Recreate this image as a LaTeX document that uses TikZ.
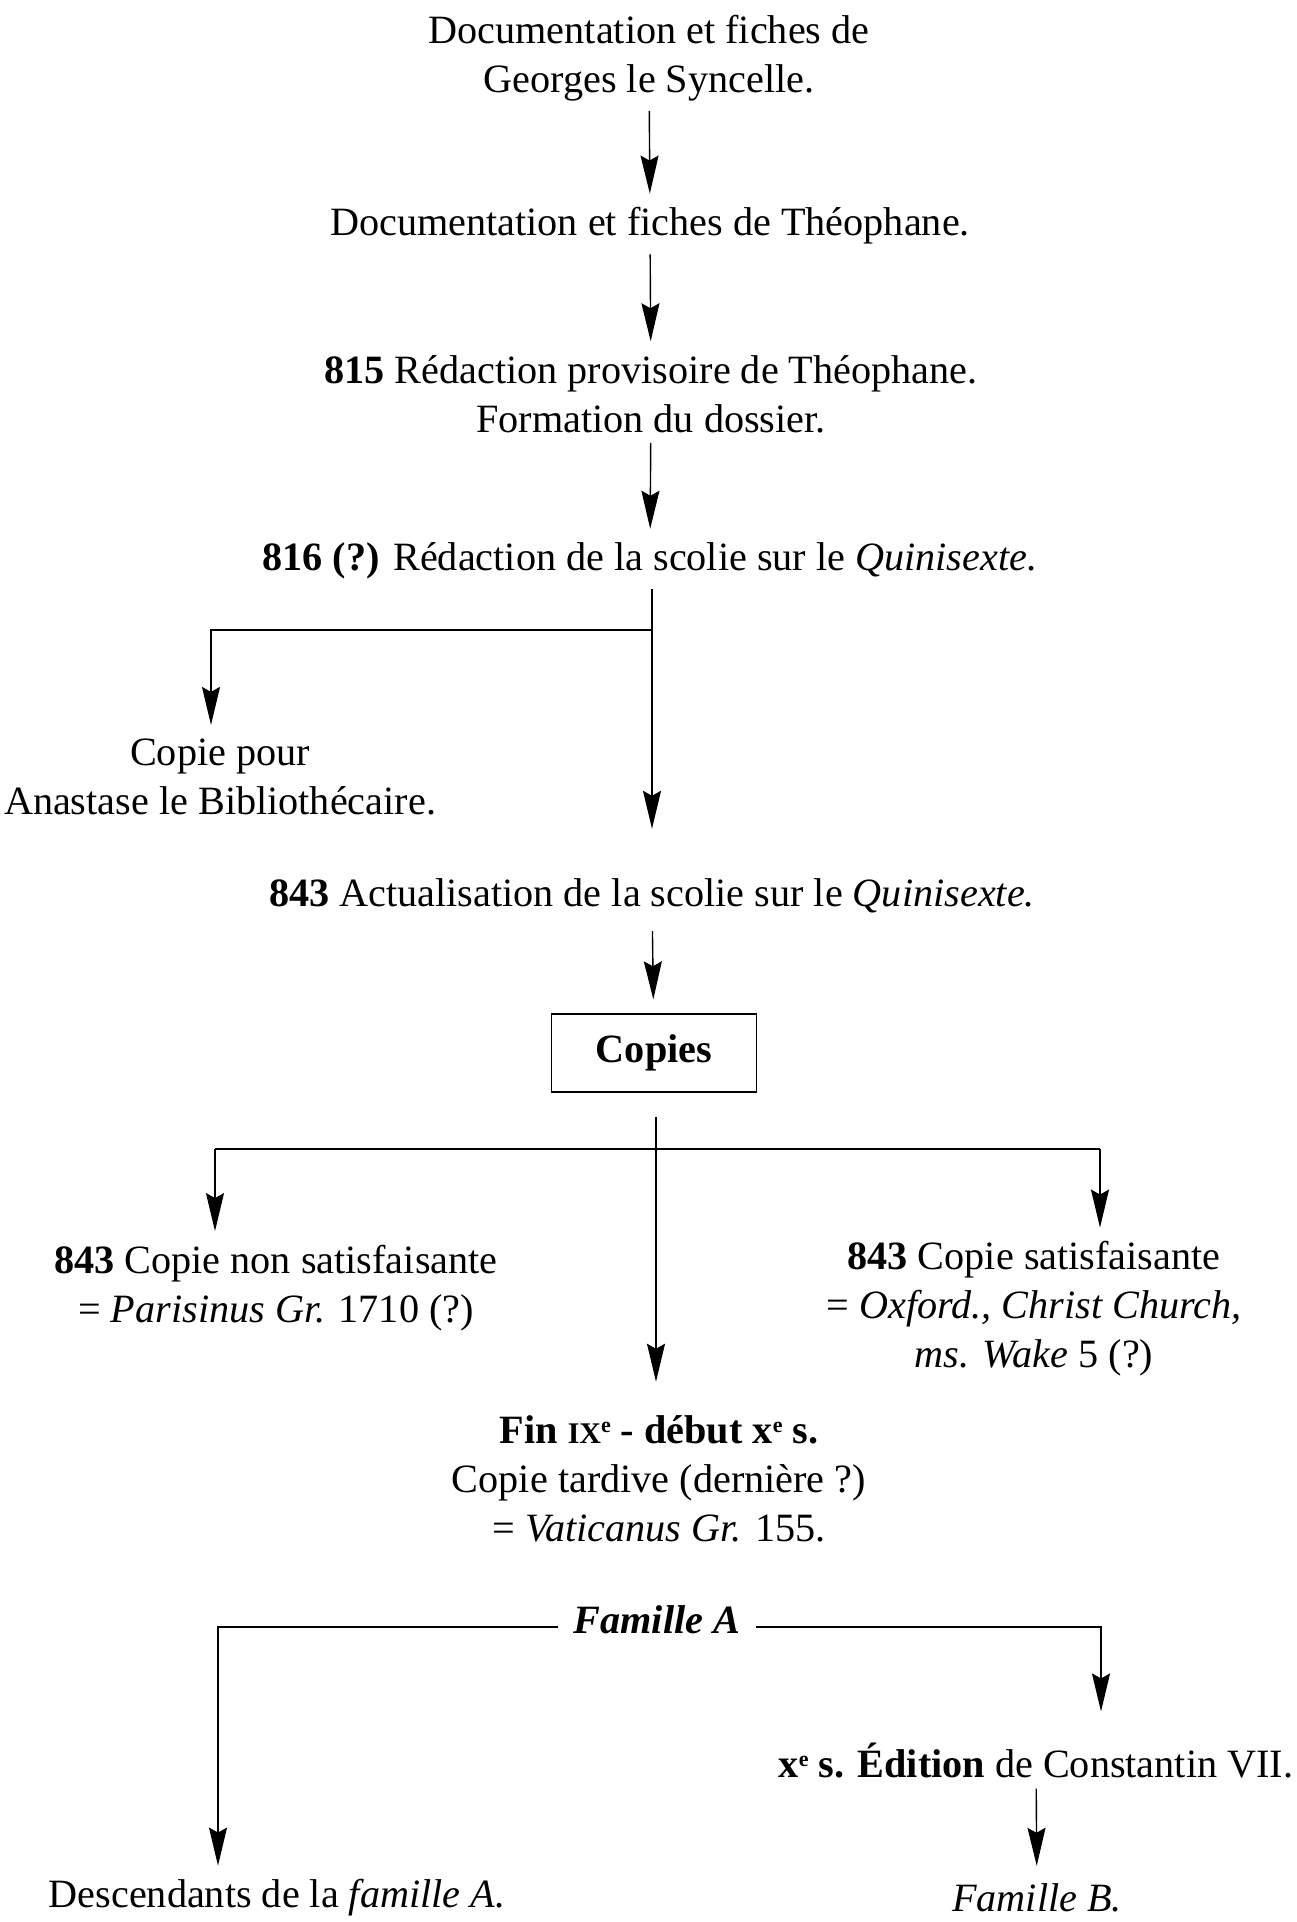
\documentclass[tikz,border=0pt]{standalone}
\usepackage{fontspec}
\setmainfont{Liberation Serif}
\usetikzlibrary{positioning, arrows.meta, calc}
\newcommand{\supe}{\raisebox{0.6ex}{\fontsize{11}{11}\selectfont e}}

\begin{document}
\begin{tikzpicture}[
    x=0.5pt, y=-0.5pt,
    line width=0.7pt,
    font=\fontsize{20.1}{24.5}\selectfont,
    txt/.style={align=center, inner sep=0pt, outer sep=0pt},
    box/.style={draw, rectangle, minimum width=102.5pt, minimum height=39pt, inner sep=0pt, font=\fontsize{20.1}{24.5}\selectfont\bfseries},
    arr/.style={-{Stealth[length=19pt, width=9pt, inset=2.5pt]}, shorten <=5pt, shorten >=7pt}
]
    \useasboundingbox (0,0) rectangle (1296,1922);

    % ================= TOP CHAIN =================
    \node[txt] (geo) at (649,58) {Documentation et fiches de\\Georges le Syncelle.};
    \node[txt] (theo) at (650,226) {Documentation et fiches de Théophane.};
    \node[txt] (red815) at (651,394) {\textbf{815} Rédaction provisoire de Théophane.\\Formation du dossier.};
    \node[txt] (sch816) at (650,561) {\textbf{816 (?)} Rédaction de la scolie sur le \textit{Quinisexte.}};

    \draw[arr] (geo) -- (theo);
    \draw[arr] (theo) -- (red815);
    \draw[arr] (red815) -- (sch816);

    % ================= FIRST BRANCH =================
    \node[txt] (anast) at (220,777) {Copie pour\\Anastase le Bibliothécaire.};
    \node[txt] (act843) at (652,896) {\textbf{843} Actualisation de la scolie sur le \textit{Quinisexte.}};

    \coordinate (b1) at (652,630);
    \draw[arr, shorten >=25pt] (sch816.south -| b1) -- (act843.north -| b1);
    \draw[arr, shorten <=0pt] (b1) -| (anast.north -| 211,0);

    % ================= COPIES =================
    \node[box] (cop) at (654,1053) {Copies};
    \draw[arr, shorten <=9pt] (act843) -- (cop);

    \node[txt] (paris) at (276,1288) {\textbf{843} Copie non satisfaisante\\= \textit{Parisinus Gr.} 1710 (?)};
    \node[txt] (oxf) at (1034,1309) {\textbf{843} Copie satisfaisante\\= \textit{Oxford., Christ Church,}\\\textit{ms. Wake} 5 (?)};
    \node[txt] (vat) at (659,1479) {\textbf{Fin {\fontsize{15}{15}\selectfont IX}\supe{} - début x\supe{} s.}\\Copie tardive (dernière ?)\\= \textit{Vaticanus Gr.} 155.};

    \coordinate (c1) at (215,1149);
    \coordinate (c2) at (1100,1149);
    \draw[arr, shorten <=12pt, shorten >=17pt] (cop.south) ++(2,0) coordinate (c0) -- (vat.north -| c0);
    \draw (c1) -- (c2);
    \draw[arr, shorten <=0pt] (c1) -- (paris.north -| c1);
    \draw[arr, shorten <=0pt] (c2) -- (oxf.north -| c2);

    % ================= FAMILLE A =================
    \node[txt, outer sep=8pt] (famA) at (657,1620) {\textbf{\textit{Famille A}}};
    \node[txt] (const) at (1036,1761) {\textbf{x\supe{} s. Édition} de Constantin VII.};
    \node[txt] (desc) at (277,1898) {Descendants de la \textit{famille A.}};
    \node[txt] (famB) at (1037,1898) {\textit{Famille B.}};

    \coordinate (f1) at (218,1627);
    \coordinate (f2) at (1101,1627);
    \draw[arr, shorten <=0pt] (famA.west |- f1) -- (f1) -- (desc.north -| f1);
    \draw[arr, shorten <=0pt, shorten >=16pt] (famA.east |- f2) -- (f2) -- (const.north -| f2);
    \draw[arr, shorten >=9pt] (const) -- (famB);

\end{tikzpicture}
\end{document}
